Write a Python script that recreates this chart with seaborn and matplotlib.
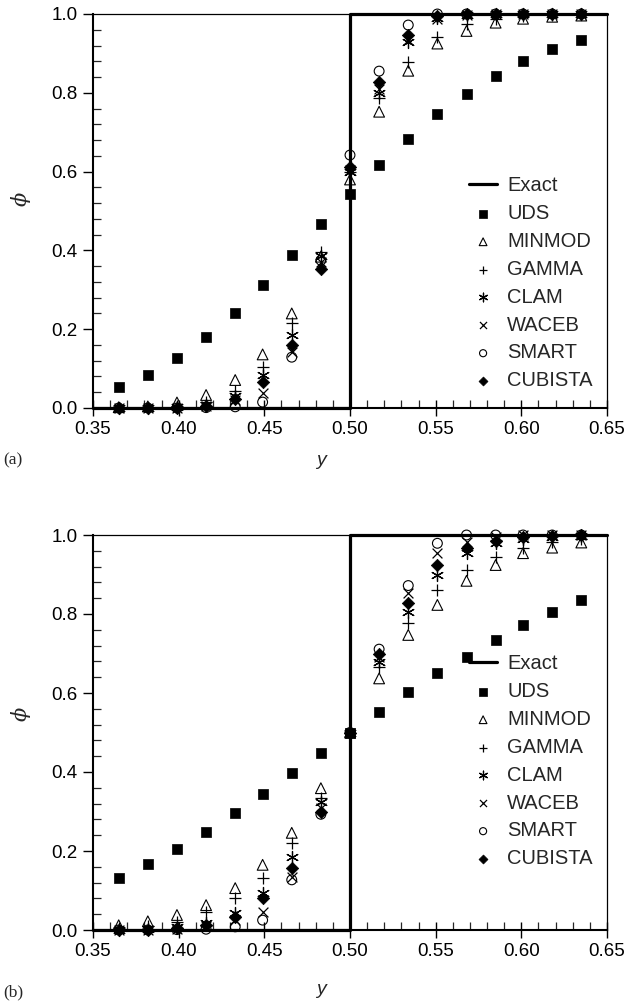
import numpy as np
import pandas as pd
import matplotlib
matplotlib.use("Agg")
import matplotlib.pyplot as plt
import seaborn as sns
from matplotlib.ticker import MultipleLocator, FormatStrFormatter

# ---------------- data ----------------
y_nodes = [0.365, 0.382, 0.399, 0.416, 0.433, 0.449, 0.466, 0.483, 0.500,
           0.517, 0.534, 0.551, 0.568, 0.585, 0.601, 0.618, 0.635]

exact_x = [0.35, 0.50, 0.50, 0.65]
exact_phi = [0.0, 0.0, 1.0, 1.0]

# panel (a)
uds_a     = [0.053, 0.085, 0.128, 0.179, 0.242, 0.312, 0.388, 0.466, 0.543, 0.617, 0.684, 0.745, 0.798, 0.842, 0.880, 0.910, 0.935]
minmod_a  = [0.002, 0.004, 0.014, 0.033, 0.071, 0.136, 0.240, 0.384, 0.580, 0.752, 0.856, 0.925, 0.957, 0.978, 0.988, 0.993, 0.996]
gamma_a   = [0.000, 0.001, 0.005, 0.016, 0.043, 0.105, 0.215, 0.397, 0.600, 0.786, 0.879, 0.942, 0.975, 0.988, 0.994, 0.997, 0.999]
clam_a    = [0.000, 0.000, 0.002, 0.007, 0.030, 0.085, 0.185, 0.386, 0.600, 0.800, 0.930, 0.990, 0.998, 1.000, 1.000, 1.000, 1.000]
waceb_a   = [0.000, 0.000, 0.001, 0.004, 0.020, 0.037, 0.143, 0.370, 0.605, 0.810, 0.935, 0.988, 0.998, 1.000, 1.000, 1.000, 1.000]
smart_a   = [0.000, 0.000, 0.000, 0.001, 0.003, 0.015, 0.129, 0.375, 0.642, 0.855, 0.972, 1.000, 1.000, 1.000, 1.000, 1.000, 1.000]
cubista_a = [0.000, 0.000, 0.001, 0.005, 0.024, 0.066, 0.160, 0.352, 0.612, 0.828, 0.947, 0.995, 1.000, 1.000, 1.000, 1.000, 1.000]

# panel (b)
uds_b     = [0.132, 0.167, 0.204, 0.249, 0.297, 0.344, 0.397, 0.449, 0.500, 0.553, 0.603, 0.650, 0.692, 0.734, 0.771, 0.806, 0.836]
minmod_b  = [0.012, 0.022, 0.038, 0.063, 0.106, 0.165, 0.246, 0.359, 0.500, 0.637, 0.747, 0.823, 0.884, 0.924, 0.954, 0.968, 0.981]
gamma_b   = [0.005, 0.010, 0.021, 0.046, 0.080, 0.132, 0.219, 0.333, 0.500, 0.667, 0.776, 0.860, 0.911, 0.945, 0.966, 0.983, 0.990]
clam_b    = [0.001, 0.003, 0.007, 0.017, 0.042, 0.093, 0.186, 0.325, 0.500, 0.679, 0.806, 0.899, 0.954, 0.980, 0.990, 0.996, 0.998]
waceb_b   = [0.000, 0.001, 0.003, 0.010, 0.025, 0.046, 0.135, 0.310, 0.500, 0.690, 0.852, 0.954, 0.983, 0.995, 0.999, 1.000, 1.000]
smart_b   = [0.000, 0.000, 0.001, 0.002, 0.008, 0.025, 0.127, 0.293, 0.500, 0.711, 0.872, 0.979, 1.000, 1.000, 1.000, 1.000, 1.000]
cubista_b = [0.000, 0.001, 0.004, 0.012, 0.034, 0.080, 0.156, 0.300, 0.500, 0.700, 0.827, 0.924, 0.966, 0.985, 0.995, 0.998, 1.000]

schemes = ["UDS", "MINMOD", "GAMMA", "CLAM", "WACEB", "SMART", "CUBISTA"]
panel_a = dict(zip(schemes, [uds_a, minmod_a, gamma_a, clam_a, waceb_a, smart_a, cubista_a]))
panel_b = dict(zip(schemes, [uds_b, minmod_b, gamma_b, clam_b, waceb_b, smart_b, cubista_b]))

# ---------------- style ----------------
sns.set_style("ticks")
plt.rcParams["font.family"] = ["Liberation Sans", "DejaVu Sans"]
plt.rcParams["mathtext.fontset"] = "dejavuserif"

marker_style = {
    "UDS":     dict(marker="s", s=55, color="black", edgecolor="black", linewidth=0.5),
    "MINMOD":  dict(marker="^", s=60, facecolor="none", edgecolor="black", linewidth=0.8),
    "GAMMA":   dict(marker="+", s=75, color="black", linewidth=0.9),
    "CLAM":    dict(marker=(6, 2, 0), s=75, color="black", linewidth=0.9),
    "WACEB":   dict(marker="x", s=50, color="black", linewidth=0.9),
    "SMART":   dict(marker="o", s=50, facecolor="none", edgecolor="black", linewidth=0.8),
    "CUBISTA": dict(marker="D", s=40, color="black", edgecolor="black", linewidth=0.5),
}

W, H = 627, 1005
fig = plt.figure(figsize=(W / 100, H / 100), dpi=100)
ax_a = fig.add_axes([93 / W, 1 - 408 / H, 514 / W, 394 / H])
ax_b = fig.add_axes([93 / W, 1 - 930 / H, 514 / W, 395 / H])


def draw(ax, data, leg_anchor, ylab_y, xlab_y):
    sns.lineplot(x=exact_x, y=exact_phi, ax=ax, sort=False, estimator=None,
                 color="black", linewidth=2.3, label="Exact", clip_on=False, zorder=2)
    for name in schemes:
        sns.scatterplot(x=y_nodes, y=data[name], ax=ax, label=name, zorder=3,
                        clip_on=False, **marker_style[name])
    ax.set_xlim(0.35, 0.65)
    ax.set_ylim(0.0, 1.0)
    ax.xaxis.set_major_locator(MultipleLocator(0.05))
    ax.xaxis.set_minor_locator(MultipleLocator(0.01))
    ax.yaxis.set_major_locator(MultipleLocator(0.2))
    ax.yaxis.set_minor_locator(MultipleLocator(0.04))
    ax.xaxis.set_major_formatter(FormatStrFormatter("%.2f"))
    ax.yaxis.set_major_formatter(FormatStrFormatter("%.1f"))
    ax.tick_params(axis="x", which="major", direction="inout", length=12, width=1.0,
                   labelsize=13.5, pad=3, colors="black")
    ax.tick_params(axis="x", which="minor", direction="in", length=6, width=0.9)
    ax.tick_params(axis="y", which="major", direction="out", length=7, width=1.0,
                   labelsize=13.5, pad=4, colors="black")
    ax.tick_params(axis="y", which="minor", direction="in", length=6, width=0.9)
    for sp in ax.spines.values():
        sp.set_color("black")
        sp.set_linewidth(0.9)
    ax.spines["left"].set_linewidth(1.5)
    ax.spines["bottom"].set_linewidth(1.5)
    ax.set_xlabel("y", fontsize=14, style="italic")
    ax.set_ylabel(r"$\phi$", fontsize=15, rotation=90)
    ax.xaxis.set_label_coords(0.444, xlab_y)
    ax.yaxis.set_label_coords(-0.117, ylab_y)
    ax.legend(loc="upper left", bbox_to_anchor=leg_anchor, frameon=False,
              fontsize=14.5, handlelength=1.4, handletextpad=0.5,
              labelspacing=0.44, borderpad=0, borderaxespad=0, scatterpoints=1,
              markerscale=0.72)


draw(ax_a, panel_a, (0.7315, 0.588), 0.53, -0.112)
draw(ax_b, panel_b, (0.7315, 0.698), 0.547, -0.13)

fig.text(3 / W, 1 - 460 / H, "(a)", fontsize=12.5, family="Liberation Serif", va="center")
fig.text(3 / W, 1 - 992 / H, "(b)", fontsize=12.5, family="Liberation Serif", va="center")

fig.savefig("out.png", dpi=100)
